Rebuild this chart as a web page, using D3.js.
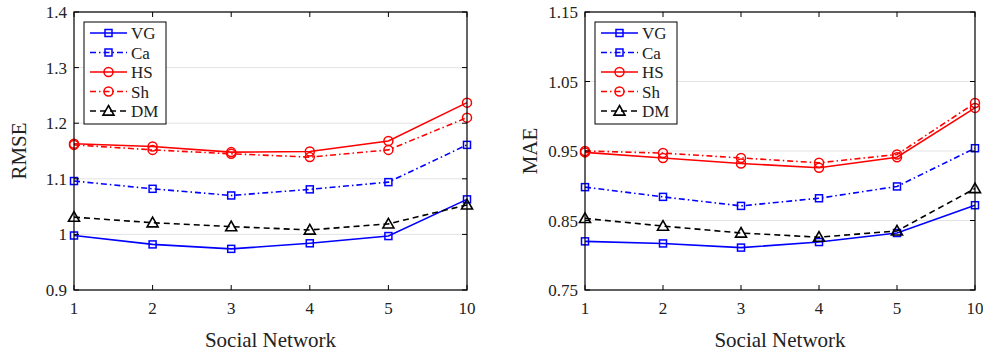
<!DOCTYPE html>
<html>
<head>
<meta charset="utf-8">
<script src="https://cdn.jsdelivr.net/npm/d3@7"></script>
<style>
  body { margin: 0; background: #fff; }
  svg { display: block; font-family: "Liberation Serif", "Times New Roman", serif; }
  .grid line { stroke: #e3e3e3; stroke-width: 1; }
  .tick-label { font-size: 17px; fill: #222; }
  .axis-title { font-size: 21px; fill: #222; }
  .legend-text { font-size: 17px; fill: #222; }
</style>
</head>
<body>
<div id="vis"></div>
<script>
// categories on the x axis (number of social networks)
const categories = ["1", "2", "3", "4", "5", "10"];
const seriesNames = ["VG", "Ca", "HS", "Sh", "DM"];

// RMSE values
const rmseVG = [0.998, 0.982, 0.974, 0.984, 0.997, 1.063];
const rmseCa = [1.096, 1.082, 1.070, 1.081, 1.094, 1.161];
const rmseHS = [1.163, 1.158, 1.148, 1.149, 1.168, 1.237];
const rmseSh = [1.161, 1.152, 1.145, 1.139, 1.152, 1.210];
const rmseDM = [1.031, 1.021, 1.014, 1.008, 1.019, 1.053];

// MAE values, right panel
const maeVG = [0.820, 0.817, 0.811, 0.819, 0.832, 0.872];
const maeCa = [0.898, 0.884, 0.871, 0.882, 0.899, 0.954];
const maeHS = [0.948, 0.940, 0.932, 0.926, 0.941, 1.012];
const maeSh = [0.950, 0.947, 0.940, 0.933, 0.945, 1.019];
const maeDM = [0.853, 0.842, 0.832, 0.826, 0.835, 0.896];

const rmseTicks = [0.9, 1, 1.1, 1.2, 1.3, 1.4];
const maeTicks = [0.75, 0.85, 0.95, 1.05, 1.15];

const styles = {
  VG: {color: "#0000ff", dash: null, marker: "square"},
  Ca: {color: "#0000ff", dash: "6,3,1.5,3", marker: "square"},
  HS: {color: "#ff0000", dash: null, marker: "circle"},
  Sh: {color: "#ff0000", dash: "6,3,1.5,3", marker: "circle"},
  DM: {color: "#000000", dash: "6,4", marker: "triangle"}
};

const W = 983, H = 355;
const svg = d3.select("#vis").append("svg").attr("width", W).attr("height", H);

function drawMarker(g, type, cx, cy, color) {
  if (type === "square") {
    g.append("rect").attr("x", cx - 3.5).attr("y", cy - 3.5).attr("width", 7).attr("height", 7)
      .attr("fill", "none").attr("stroke", color).attr("stroke-width", 1.5);
  } else if (type === "circle") {
    g.append("circle").attr("cx", cx).attr("cy", cy).attr("r", 4.5)
      .attr("fill", "none").attr("stroke", color).attr("stroke-width", 1.5);
  } else {
    const s = 5.5;
    g.append("path")
      .attr("d", `M${cx},${cy - s}L${cx + s},${cy + s * 0.75}L${cx - s},${cy + s * 0.75}Z`)
      .attr("fill", "none").attr("stroke", color).attr("stroke-width", 1.6);
  }
}

function panel(opts) {
  const {x0, x1, y0, y1, domain, ticks, fmt, title, series} = opts;
  const x = d3.scalePoint().domain(categories).range([x0, x1]);
  const y = d3.scaleLinear().domain(domain).range([y1, y0]);
  const g = svg.append("g");

  // gridlines
  g.append("g").attr("class", "grid").selectAll("line").data(ticks).join("line")
    .attr("x1", x0).attr("x2", x1).attr("y1", d => y(d)).attr("y2", d => y(d));

  // series
  seriesNames.forEach(name => {
    const st = styles[name];
    const vals = series[name];
    const line = d3.line().x((d, i) => x(categories[i])).y(d => y(d));
    g.append("path").datum(vals).attr("d", line)
      .attr("fill", "none").attr("stroke", st.color).attr("stroke-width", 1.6)
      .attr("stroke-dasharray", st.dash);
    vals.forEach((v, i) => drawMarker(g, st.marker, x(categories[i]), y(v), st.color));
  });

  // box + ticks (matlab style, inward)
  const ax = g.append("g");
  ax.append("rect").attr("x", x0).attr("y", y0).attr("width", x1 - x0).attr("height", y1 - y0)
    .attr("fill", "none").attr("stroke", "#000").attr("stroke-width", 1.2);
  categories.forEach(c => {
    ax.append("line").attr("x1", x(c)).attr("x2", x(c)).attr("y1", y1).attr("y2", y1 - 5).attr("stroke", "#000");
    ax.append("line").attr("x1", x(c)).attr("x2", x(c)).attr("y1", y0).attr("y2", y0 + 5).attr("stroke", "#000");
    ax.append("text").attr("class", "tick-label").attr("x", x(c)).attr("y", y1 + 24)
      .attr("text-anchor", "middle").text(c);
  });
  ticks.forEach(t => {
    ax.append("line").attr("x1", x0).attr("x2", x0 + 5).attr("y1", y(t)).attr("y2", y(t)).attr("stroke", "#000");
    ax.append("line").attr("x1", x1).attr("x2", x1 - 5).attr("y1", y(t)).attr("y2", y(t)).attr("stroke", "#000");
    ax.append("text").attr("class", "tick-label").attr("x", x0 - 7).attr("y", y(t) + 6)
      .attr("text-anchor", "end").text(fmt(t));
  });

  ax.append("text").attr("class", "axis-title").attr("x", (x0 + x1) / 2).attr("y", y1 + 57)
    .attr("text-anchor", "middle").text("Social Network");
  ax.append("text").attr("class", "axis-title")
    .attr("transform", `translate(${x0 - 48},${(y0 + y1) / 2}) rotate(-90)`)
    .attr("text-anchor", "middle").text(title);

  // legend
  const lx = x0 + 10, ly = y0 + 10;
  const lg = g.append("g");
  lg.append("rect").attr("x", lx).attr("y", ly).attr("width", 82).attr("height", 102)
    .attr("fill", "#fff").attr("stroke", "#000").attr("stroke-width", 1);
  seriesNames.forEach((name, i) => {
    const st = styles[name];
    const cy = ly + 11 + i * 19.5;
    lg.append("line").attr("x1", lx + 6).attr("x2", lx + 43).attr("y1", cy).attr("y2", cy)
      .attr("stroke", st.color).attr("stroke-width", 1.6).attr("stroke-dasharray", st.dash);
    drawMarker(lg, st.marker, lx + 24.5, cy, st.color);
    lg.append("text").attr("class", "legend-text").attr("x", lx + 47).attr("y", cy + 6).text(name);
  });
}

panel({
  x0: 74, x1: 467, y0: 12, y1: 290, domain: [0.9, 1.4], ticks: rmseTicks,
  fmt: d => d3.format("")(d), title: "RMSE",
  series: {VG: rmseVG, Ca: rmseCa, HS: rmseHS, Sh: rmseSh, DM: rmseDM}
});
panel({
  x0: 585, x1: 975, y0: 12, y1: 290, domain: [0.75, 1.15], ticks: maeTicks,
  fmt: d => d3.format(".2f")(d), title: "MAE",
  series: {VG: maeVG, Ca: maeCa, HS: maeHS, Sh: maeSh, DM: maeDM}
});
</script>
</body>
</html>
